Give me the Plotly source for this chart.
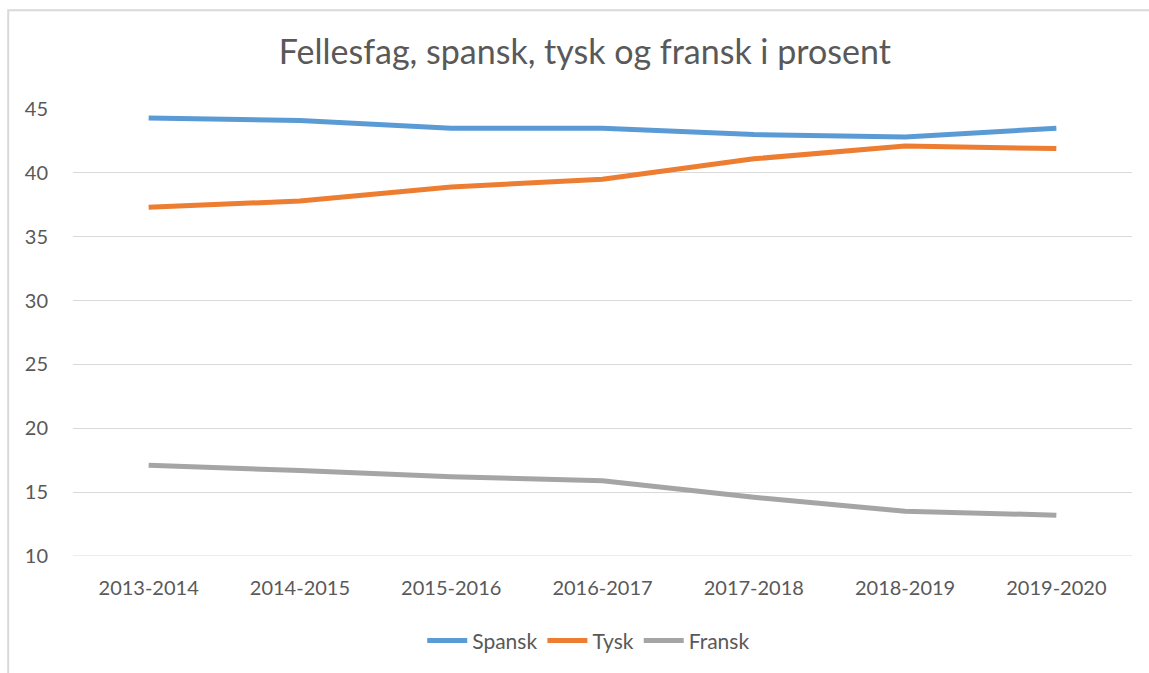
import plotly.graph_objects as go

years = ["2013-2014", "2014-2015", "2015-2016", "2016-2017", "2017-2018", "2018-2019", "2019-2020"]
spansk = [44.3, 44.1, 43.5, 43.5, 43.0, 42.8, 43.5]
tysk = [37.3, 37.8, 38.9, 39.5, 41.1, 42.1, 41.9]
fransk = [17.1, 16.7, 16.2, 15.9, 14.6, 13.5, 13.2]

series = [("Spansk", spansk, "#5B9BD5"), ("Tysk", tysk, "#ED7D31"), ("Fransk", fransk, "#A5A5A5")]

fig = go.Figure()
for name, vals, col in series:
    fig.add_trace(go.Scatter(x=years, y=vals, name=name, mode="lines",
                             line=dict(color=col, width=5, shape="linear")))

font = "Lato, Open Sans, sans-serif"
fig.update_layout(
    width=1149, height=673,
    margin=dict(l=73, r=17, t=109, b=114),
    paper_bgcolor="white", plot_bgcolor="white",
    font=dict(family=font, color="#595959", size=20),
    title=dict(text="Fellesfag, spansk, tysk og fransk i prosent", x=0.509, xanchor="center",
               y=0.923, yanchor="middle", yref="container",
               font=dict(size=34, color="#595959", family=font)),
    xaxis=dict(range=[-0.5, 6.5], showgrid=False, showline=False, zeroline=False,
               ticks="", ticklabelstandoff=18, tickfont=dict(size=20)),
    yaxis=dict(range=[10, 45], dtick=5, tick0=10, showgrid=True, gridcolor="#D9D9D9",
               gridwidth=1, zeroline=False, showline=False, ticks="",
               ticklabelstandoff=24, tickfont=dict(size=20)),
    legend=dict(orientation="h", x=0.487, xanchor="center", y=-0.19, yanchor="middle",
                font=dict(size=21), itemwidth=40, tracegroupgap=0),
    showlegend=True,
    shapes=[
        dict(type="rect", xref="paper", yref="paper", x0=-0.0612, x1=1.2, y0=-0.5, y1=1.2207,
             line=dict(color="#D9D9D9", width=2), fillcolor="rgba(0,0,0,0)", layer="below"),
        dict(type="line", xref="paper", yref="y", x0=0, x1=1, y0=10, y1=10,
             line=dict(color="#D9D9D9", width=1), layer="below"),
    ],
)

fig.write_html("out.html", config={"displayModeBar": False},
               post_script="document.body.style.margin='0';document.body.style.overflow='hidden';")
